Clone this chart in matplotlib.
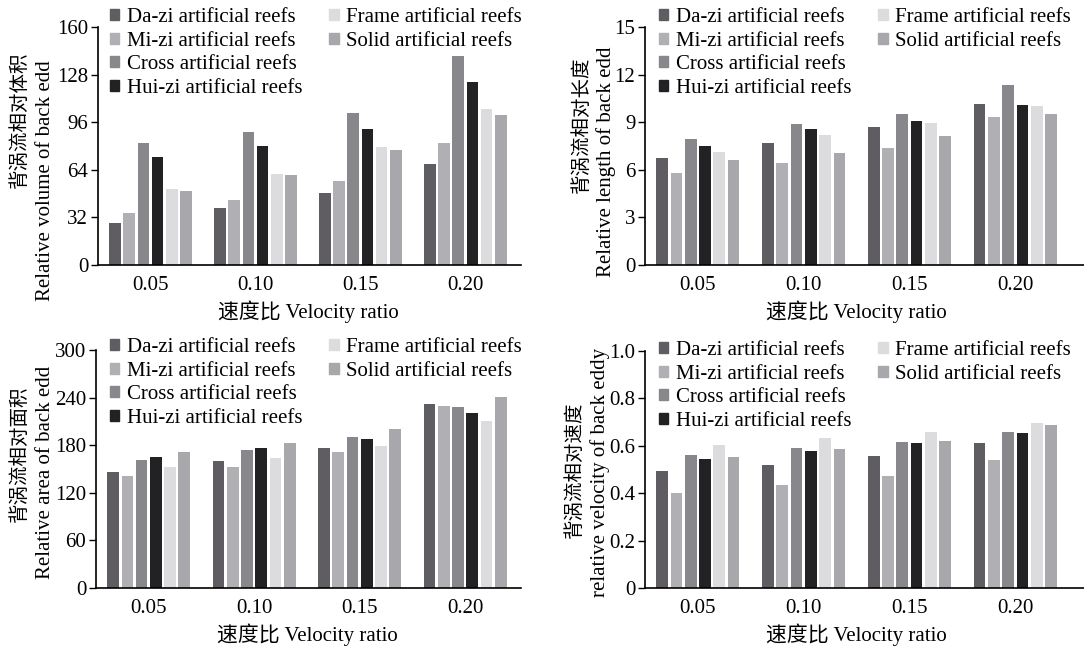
import numpy as np
import matplotlib
matplotlib.use("Agg")
import matplotlib.pyplot as plt
from matplotlib.patches import Patch

plt.rcParams['font.family'] = ['Liberation Serif', 'Noto Sans CJK SC']
plt.rcParams['font.size'] = 15

ratios = ['0.05', '0.10', '0.15', '0.20']
reefs = ['Da-zi artificial reefs', 'Mi-zi artificial reefs', 'Cross artificial reefs',
         'Hui-zi artificial reefs', 'Frame artificial reefs', 'Solid artificial reefs']
colors = ['#5f5d62', '#b0afb3', '#88878c', '#222224', '#dcdcde', '#a8a7ab']

# rows = velocity ratio, cols = reef type (Da, Mi, Cross, Hui, Frame, Solid)
volume = [[28.0, 34.7, 82.0, 72.7, 50.8, 49.9],
          [38.3, 44.0, 89.5, 80.0, 61.0, 60.4],
          [48.5, 56.6, 102.5, 91.7, 79.2, 77.0],
          [67.6, 82.0, 140.7, 123.0, 104.7, 101.0]]
length = [[6.75, 5.81, 7.93, 7.51, 7.11, 6.61],
          [7.66, 6.42, 8.87, 8.54, 8.20, 7.09],
          [8.68, 7.38, 9.50, 9.08, 8.94, 8.14],
          [10.17, 9.31, 11.35, 10.11, 9.99, 9.50]]
area = [[146, 141, 161.5, 165, 152, 172],
        [160, 152, 173.7, 176, 164, 183],
        [176, 172, 190, 187.6, 179, 201],
        [232.5, 229.5, 228, 220, 210.6, 240.4]]
velocity = [[0.494, 0.402, 0.563, 0.545, 0.604, 0.553],
            [0.521, 0.434, 0.590, 0.576, 0.632, 0.586],
            [0.558, 0.471, 0.618, 0.612, 0.659, 0.622],
            [0.612, 0.541, 0.659, 0.654, 0.695, 0.687]]

panels = [
    dict(data=volume, ticks=[0, 32, 64, 96, 128, 160], labels=['0', '32', '64', '96', '128', '160'],
         cn='背涡流相对体积', en='Relative volume of back edd',
         rect=[98, 27, 521, 265], xr=3.53, cnpos=(20, 120), enpos=(46, 181), leg=(110, 8)),
    dict(data=length, ticks=[0, 3, 6, 9, 12, 15], labels=['0', '3', '6', '9', '12', '15'],
         cn='背涡流相对长度', en='Relative length of back edd',
         rect=[645, 27, 1084, 265], xr=3.65, cnpos=(582, 125), enpos=(606, 162), leg=(659, 8)),
    dict(data=area, ticks=[0, 60, 120, 180, 240, 300], labels=['0', '60', '120', '180', '240', '300'],
         cn='背涡流相对面积', en='Relative area of back edd',
         rect=[96, 350, 521, 588], xr=3.53, cnpos=(20, 454), enpos=(46, 472), leg=(110, 338)),
    dict(data=velocity, ticks=[0, 0.2, 0.4, 0.6, 0.8, 1.0], labels=['0', '0.2', '0.4', '0.6', '0.8', '1.0'],
         cn='背涡流相对速度', en='relative velocity of back eddy',
         rect=[645, 351, 1084, 588], xr=3.65, cnpos=(575, 470), enpos=(600, 472), leg=(659, 341)),
]

W, H = 1084, 650
fig = plt.figure(figsize=(W / 100, H / 100), dpi=100)

x = np.arange(len(ratios))
pitch = 0.135
width = 0.111

for p in panels:
    l, t, r, b = p['rect']
    ax = fig.add_axes([l / W, 1 - b / H, (r - l) / W, (b - t) / H])
    d = np.array(p['data'])
    for j in range(len(reefs)):
        ax.bar(x + (j - 2.5) * pitch, d[:, j], width, color=colors[j])
    ax.set_xlim(-0.5, p['xr'])
    ax.set_ylim(p['ticks'][0], p['ticks'][-1])
    ax.set_yticks(p['ticks'])
    ax.set_yticklabels(p['labels'])
    ax.set_xticks(x)
    ax.set_xticklabels(ratios)
    ax.tick_params(axis='x', length=0, pad=8)
    ax.tick_params(axis='y', length=5, width=1, direction='out', pad=2)
    ax.spines['top'].set_visible(False)
    ax.spines['right'].set_visible(False)
    ax.spines['left'].set_linewidth(1.2)
    ax.spines['bottom'].set_linewidth(1.2)

    fig.text(p['cnpos'][0] / W, 1 - p['cnpos'][1] / H, p['cn'], rotation=90,
             ha='center', va='center', fontsize=14)
    fig.text(p['enpos'][0] / W, 1 - p['enpos'][1] / H, p['en'], rotation=90,
             ha='center', va='center')
    # x label centred on the middle of the four groups
    xc = l + (1.5 + 0.5) / (p['xr'] + 0.5) * (r - l)
    fig.text(xc / W, 1 - (b + 47) / H, '速度比 Velocity ratio', ha='center', va='center')

    handles = [Patch(color=colors[j]) for j in range(6)]
    handles += [Patch(color='none'), Patch(color='none')]
    labs = reefs + ['', '']
    fig.legend(handles, labs, ncol=2, loc='upper left',
               bbox_to_anchor=(p['leg'][0] / W, 1 - p['leg'][1] / H),
               frameon=False, borderpad=0, borderaxespad=0,
               handlelength=0.45, handleheight=0.45, handletextpad=0.35,
               labelspacing=0.22, columnspacing=1.3, fontsize=15)

fig.savefig('out.png', dpi=100)
